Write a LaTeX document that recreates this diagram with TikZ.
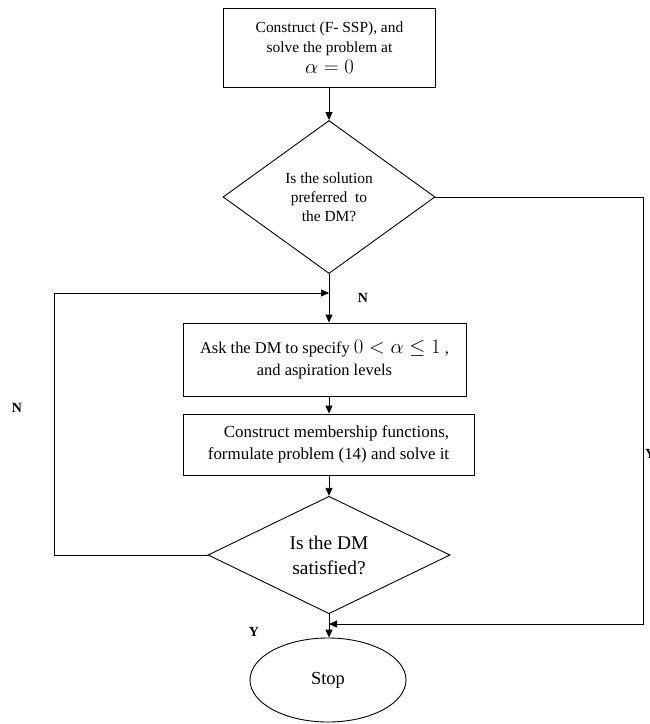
\documentclass[tikz,border=0pt]{standalone}
\usepackage{fontspec}
\setmainfont{Liberation Serif}
\usetikzlibrary{shapes.geometric,arrows.meta}
\tikzset{
  ln/.style={line width=0.9bp, draw=black},
  arr/.style={ln, -{Triangle[length=8bp,width=7bp]}},
  procbox/.style={ln, rectangle, inner sep=0pt, align=center},
  decide/.style={ln, diamond, inner sep=0pt, align=center},
  term/.style={ln, ellipse, inner sep=0pt, align=center},
  lbl/.style={font=\fontsize{14}{16}\selectfont\bfseries, inner sep=0pt}
}
\begin{document}
\begin{tikzpicture}[x=1bp,y=-1bp]
\useasboundingbox (0,0) rectangle (650,724);
% nodes
\node[procbox, minimum width=212bp, minimum height=79bp,
      font=\fontsize{15.5}{20}\selectfont] (b1) at (329.5,47.5)
  {Construct (F- SSP), and\\ solve the problem at\\[1bp] {\fontsize{21}{21}\selectfont$\alpha = 0$}};
\node[decide, minimum width=212bp, minimum height=153bp,
      font=\fontsize{15.5}{19}\selectfont] (d1) at (329,197)
  {Is the solution\\ preferred~ to\\ the DM?};
\node[procbox, minimum width=283bp, minimum height=73bp,
      font=\fontsize{16.5}{22}\selectfont] (b2) at (324.5,359.5)
  {Ask the DM to specify {\fontsize{21}{21}\selectfont$0<\alpha\leq 1$} ,\\ and aspiration levels};
\node[procbox, minimum width=291bp, minimum height=61bp, align=right,
      font=\fontsize{17}{22}\selectfont] (b3) at (328.5,444.5)
  {Construct membership functions,\\ formulate problem (14) and solve it};
\node[decide, minimum width=242bp, minimum height=111bp,
      font=\fontsize{19.5}{25}\selectfont] (d2) at (329,555)
  {Is the DM\\ satisfied?};
\node[term, minimum width=156bp, minimum height=84bp,
      font=\fontsize{18.5}{20}\selectfont] (st) at (328,680) {Stop};
% coordinates
\coordinate (l1) at (54,555);
\coordinate (l2) at (54,293);
\coordinate (l3) at (329,293);
\coordinate (r1) at (643,197);
\coordinate (r2) at (643,624);
\coordinate (r3) at (329,624);
% connectors
\draw[arr] (b1.south -| d1.north) -- (d1.north);
\draw[arr] (d1.south) -- (d1.south |- b2.north);
\draw[arr] (d1.south |- b2.south) -- (d1.south |- b3.north);
\draw[arr] (d2.north |- b3.south) -- (d2.north);
\draw[arr] (d2.south) -- (d2.south |- st.north);
\draw[arr] (d2.west) -- (l1) -- (l2) -- (l3);
\draw[arr] (d1.east) -- (r1) -- (r2) -- (r3);
% labels
\node[lbl] (n1) at (363,298) {N};
\node[lbl] (n2) at (17,408) {N};
\node[lbl] (y1) at (254,632) {Y};
\node[lbl, anchor=west] (y2) at (645,454) {Y};
\end{tikzpicture}
\end{document}
